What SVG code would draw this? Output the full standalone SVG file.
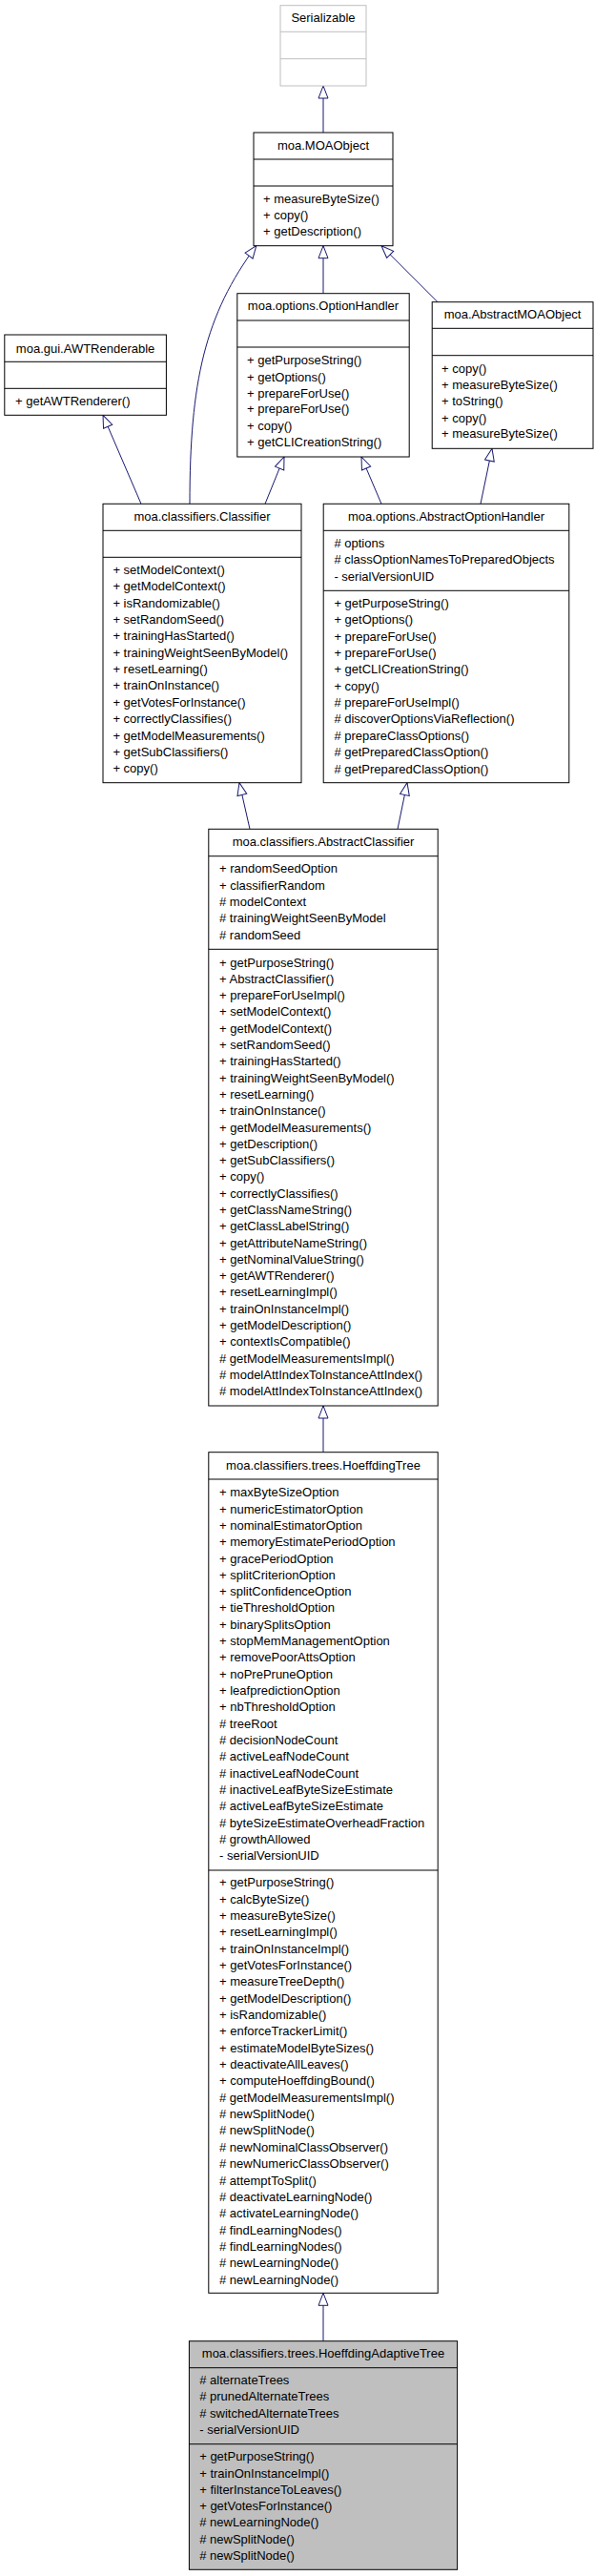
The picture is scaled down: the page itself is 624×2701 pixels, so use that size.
<svg xmlns="http://www.w3.org/2000/svg" width="624" height="2701" viewBox="0 0 624 2701">
<style>
rect.box{fill:#fff;stroke:#000;stroke-width:1}
rect.ghost{fill:#fff;stroke:#bfbfbf;stroke-width:1}
rect.cur{fill:#bfbfbf;stroke:#000;stroke-width:1}
line.div{stroke:#000;stroke-width:1}
line.gdiv{stroke:#bfbfbf;stroke-width:1}
text{font-family:"Liberation Sans",Arial,Helvetica,sans-serif;font-size:13px;fill:#000}
text.t{text-anchor:middle}
.edge{fill:none;stroke:#191970;stroke-width:1;marker-end:url(#inh)}
</style>
<defs>
<marker id="inh" markerUnits="userSpaceOnUse" markerWidth="15" markerHeight="12" viewBox="0 0 15 12" refX="14" refY="6" orient="auto">
<path d="M1,1 L14,6 L1,11 Z" fill="#fff" stroke="#191970" stroke-width="1"/>
</marker>
</defs>

<g id="connectors">
<path class="edge" d="M339,139 L339,90"/>
<path class="edge" d="M199,528.3 C199,400 215,330 268.8,257.7"/>
<path class="edge" d="M339,307.7 L339,257.7"/>
<path class="edge" d="M459,316.7 L400,257.7"/>
<path class="edge" d="M148,528.3 L108,435.3"/>
<path class="edge" d="M278,528.3 L298,479"/>
<path class="edge" d="M400,528.3 L379,479"/>
<path class="edge" d="M504,528.3 L516,470.3"/>
<path class="edge" d="M262,869.3 L251,820.7"/>
<path class="edge" d="M417,869.3 L427,820.7"/>
<path class="edge" d="M339,1522.7 L339,1474"/>
<path class="edge" d="M339,2454.7 L339,2404.3"/>
</g>

<g id="Serializable">
<rect class="ghost" x="294" y="5.7" width="90" height="84.3"/>
<line class="gdiv" x1="294" y1="33.3" x2="384" y2="33.3"/>
<line class="gdiv" x1="294" y1="61.7" x2="384" y2="61.7"/>
<text class="t" x="339" y="23">Serializable</text>
</g>

<g id="MOAObject">
<rect class="box" x="266" y="139" width="146" height="118.7"/>
<line class="div" x1="266" y1="167" x2="412" y2="167"/>
<line class="div" x1="266" y1="195" x2="412" y2="195"/>
<text class="t" x="339" y="157">moa.MOAObject</text>
<text x="276" y="213">+ measureByteSize()</text>
<text x="276" y="230">+ copy()</text>
<text x="276" y="247">+ getDescription()</text>
</g>

<g id="AWTRenderable">
<rect class="box" x="4.8" y="351" width="169.6" height="84.3"/>
<line class="div" x1="4.8" y1="379.3" x2="174.4" y2="379.3"/>
<line class="div" x1="4.8" y1="407.3" x2="174.4" y2="407.3"/>
<text class="t" x="89.6" y="369.5">moa.gui.AWTRenderable</text>
<text x="16" y="425">+ getAWTRenderer()</text>
</g>

<g id="OptionHandler">
<rect class="box" x="248.8" y="307.7" width="180.4" height="171.3"/>
<line class="div" x1="248.8" y1="336" x2="429.2" y2="336"/>
<line class="div" x1="248.8" y1="364" x2="429.2" y2="364"/>
<text class="t" x="339" y="325">moa.options.OptionHandler</text>
<text x="259" y="382">+ getPurposeString()</text>
<text x="259" y="399.5">+ getOptions()</text>
<text x="259" y="416.5">+ prepareForUse()</text>
<text x="259" y="433">+ prepareForUse()</text>
<text x="259" y="451">+ copy()</text>
<text x="259" y="468">+ getCLICreationString()</text>
</g>

<g id="AbstractMOAObject">
<rect class="box" x="453.2" y="316.7" width="168.8" height="153.6"/>
<line class="div" x1="453.2" y1="344.3" x2="622" y2="344.3"/>
<line class="div" x1="453.2" y1="372.7" x2="622" y2="372.7"/>
<text class="t" x="537.6" y="334">moa.AbstractMOAObject</text>
<text x="463" y="390.5">+ copy()</text>
<text x="463" y="408">+ measureByteSize()</text>
<text x="463" y="425">+ toString()</text>
<text x="463" y="442.5">+ copy()</text>
<text x="463" y="459">+ measureByteSize()</text>
</g>

<g id="Classifier">
<rect class="box" x="108" y="528.3" width="208" height="292.4"/>
<line class="div" x1="108" y1="556.3" x2="316" y2="556.3"/>
<line class="div" x1="108" y1="584.3" x2="316" y2="584.3"/>
<text class="t" x="212" y="546">moa.classifiers.Classifier</text>
<text x="118.4" y="602">+ setModelContext()</text>
<text x="118.4" y="619.3">+ getModelContext()</text>
<text x="118.4" y="636.7">+ isRandomizable()</text>
<text x="118.4" y="654">+ setRandomSeed()</text>
<text x="118.4" y="671.4">+ trainingHasStarted()</text>
<text x="118.4" y="688.7">+ trainingWeightSeenByModel()</text>
<text x="118.4" y="706.1">+ resetLearning()</text>
<text x="118.4" y="723.4">+ trainOnInstance()</text>
<text x="118.4" y="740.8">+ getVotesForInstance()</text>
<text x="118.4" y="758.1">+ correctlyClassifies()</text>
<text x="118.4" y="775.5">+ getModelMeasurements()</text>
<text x="118.4" y="792.8">+ getSubClassifiers()</text>
<text x="118.4" y="810.2">+ copy()</text>
</g>

<g id="AbstractOptionHandler">
<rect class="box" x="339.2" y="528.3" width="257.6" height="292.4"/>
<line class="div" x1="339.2" y1="556.3" x2="596.8" y2="556.3"/>
<line class="div" x1="339.2" y1="619.3" x2="596.8" y2="619.3"/>
<text class="t" x="468" y="546">moa.options.AbstractOptionHandler</text>
<text x="350.4" y="574"># options</text>
<text x="350.4" y="591"># classOptionNamesToPreparedObjects</text>
<text x="350.4" y="609">- serialVersionUID</text>
<text x="350.4" y="637">+ getPurposeString()</text>
<text x="350.4" y="654.4">+ getOptions()</text>
<text x="350.4" y="671.7">+ prepareForUse()</text>
<text x="350.4" y="689">+ prepareForUse()</text>
<text x="350.4" y="706.4">+ getCLICreationString()</text>
<text x="350.4" y="723.8">+ copy()</text>
<text x="350.4" y="741.1"># prepareForUseImpl()</text>
<text x="350.4" y="758.4"># discoverOptionsViaReflection()</text>
<text x="350.4" y="775.8"># prepareClassOptions()</text>
<text x="350.4" y="793.1"># getPreparedClassOption()</text>
<text x="350.4" y="810.5"># getPreparedClassOption()</text>
</g>

<g id="AbstractClassifier">
<rect class="box" x="218.8" y="869.3" width="240.4" height="604.7"/>
<line class="div" x1="218.8" y1="897.7" x2="459.2" y2="897.7"/>
<line class="div" x1="218.8" y1="995.3" x2="459.2" y2="995.3"/>
<text class="t" x="339" y="887">moa.classifiers.AbstractClassifier</text>
<text x="230" y="915.2">+ randomSeedOption</text>
<text x="230" y="932.6">+ classifierRandom</text>
<text x="230" y="950"># modelContext</text>
<text x="230" y="967.4"># trainingWeightSeenByModel</text>
<text x="230" y="984.8"># randomSeed</text>
<text x="230" y="1013.5">+ getPurposeString()</text>
<text x="230" y="1030.8">+ AbstractClassifier()</text>
<text x="230" y="1048.1">+ prepareForUseImpl()</text>
<text x="230" y="1065.4">+ setModelContext()</text>
<text x="230" y="1082.7">+ getModelContext()</text>
<text x="230" y="1100">+ setRandomSeed()</text>
<text x="230" y="1117.3">+ trainingHasStarted()</text>
<text x="230" y="1134.6">+ trainingWeightSeenByModel()</text>
<text x="230" y="1151.9">+ resetLearning()</text>
<text x="230" y="1169.2">+ trainOnInstance()</text>
<text x="230" y="1186.5">+ getModelMeasurements()</text>
<text x="230" y="1203.8">+ getDescription()</text>
<text x="230" y="1221.1">+ getSubClassifiers()</text>
<text x="230" y="1238.3">+ copy()</text>
<text x="230" y="1255.6">+ correctlyClassifies()</text>
<text x="230" y="1272.9">+ getClassNameString()</text>
<text x="230" y="1290.2">+ getClassLabelString()</text>
<text x="230" y="1307.5">+ getAttributeNameString()</text>
<text x="230" y="1324.8">+ getNominalValueString()</text>
<text x="230" y="1342.1">+ getAWTRenderer()</text>
<text x="230" y="1359.4">+ resetLearningImpl()</text>
<text x="230" y="1376.7">+ trainOnInstanceImpl()</text>
<text x="230" y="1394">+ getModelDescription()</text>
<text x="230" y="1411.3">+ contextIsCompatible()</text>
<text x="230" y="1428.6"># getModelMeasurementsImpl()</text>
<text x="230" y="1445.9"># modelAttIndexToInstanceAttIndex()</text>
<text x="230" y="1463.2"># modelAttIndexToInstanceAttIndex()</text>
</g>

<g id="HoeffdingTree">
<rect class="box" x="218.8" y="1522.7" width="240.4" height="881.6"/>
<line class="div" x1="218.8" y1="1551" x2="459.2" y2="1551"/>
<line class="div" x1="218.8" y1="1961" x2="459.2" y2="1961"/>
<text class="t" x="339" y="1541">moa.classifiers.trees.HoeffdingTree</text>
<text x="230" y="1569.2">+ maxByteSizeOption</text>
<text x="230" y="1586.5">+ numericEstimatorOption</text>
<text x="230" y="1603.8">+ nominalEstimatorOption</text>
<text x="230" y="1621.2">+ memoryEstimatePeriodOption</text>
<text x="230" y="1638.5">+ gracePeriodOption</text>
<text x="230" y="1655.8">+ splitCriterionOption</text>
<text x="230" y="1673.1">+ splitConfidenceOption</text>
<text x="230" y="1690.4">+ tieThresholdOption</text>
<text x="230" y="1707.7">+ binarySplitsOption</text>
<text x="230" y="1725.1">+ stopMemManagementOption</text>
<text x="230" y="1742.4">+ removePoorAttsOption</text>
<text x="230" y="1759.7">+ noPrePruneOption</text>
<text x="230" y="1777">+ leafpredictionOption</text>
<text x="230" y="1794.3">+ nbThresholdOption</text>
<text x="230" y="1811.7"># treeRoot</text>
<text x="230" y="1829"># decisionNodeCount</text>
<text x="230" y="1846.3"># activeLeafNodeCount</text>
<text x="230" y="1863.6"># inactiveLeafNodeCount</text>
<text x="230" y="1880.9"># inactiveLeafByteSizeEstimate</text>
<text x="230" y="1898.2"># activeLeafByteSizeEstimate</text>
<text x="230" y="1915.6"># byteSizeEstimateOverheadFraction</text>
<text x="230" y="1932.9"># growthAllowed</text>
<text x="230" y="1950.2">- serialVersionUID</text>
<text x="230" y="1978.2">+ getPurposeString()</text>
<text x="230" y="1995.5">+ calcByteSize()</text>
<text x="230" y="2012.9">+ measureByteSize()</text>
<text x="230" y="2030.2">+ resetLearningImpl()</text>
<text x="230" y="2047.6">+ trainOnInstanceImpl()</text>
<text x="230" y="2064.9">+ getVotesForInstance()</text>
<text x="230" y="2082.3">+ measureTreeDepth()</text>
<text x="230" y="2099.6">+ getModelDescription()</text>
<text x="230" y="2117">+ isRandomizable()</text>
<text x="230" y="2134.3">+ enforceTrackerLimit()</text>
<text x="230" y="2151.7">+ estimateModelByteSizes()</text>
<text x="230" y="2169">+ deactivateAllLeaves()</text>
<text x="230" y="2186.4">+ computeHoeffdingBound()</text>
<text x="230" y="2203.7"># getModelMeasurementsImpl()</text>
<text x="230" y="2221"># newSplitNode()</text>
<text x="230" y="2238.4"># newSplitNode()</text>
<text x="230" y="2255.7"># newNominalClassObserver()</text>
<text x="230" y="2273.1"># newNumericClassObserver()</text>
<text x="230" y="2290.5"># attemptToSplit()</text>
<text x="230" y="2307.8"># deactivateLearningNode()</text>
<text x="230" y="2325.1"># activateLearningNode()</text>
<text x="230" y="2342.5"># findLearningNodes()</text>
<text x="230" y="2359.8"># findLearningNodes()</text>
<text x="230" y="2377.2"># newLearningNode()</text>
<text x="230" y="2394.5"># newLearningNode()</text>
</g>

<g id="HoeffdingAdaptiveTree">
<rect class="cur" x="198.4" y="2454.7" width="281.2" height="239.6"/>
<line class="div" x1="198.4" y1="2482.7" x2="479.6" y2="2482.7"/>
<line class="div" x1="198.4" y1="2562.7" x2="479.6" y2="2562.7"/>
<text class="t" x="339" y="2472">moa.classifiers.trees.HoeffdingAdaptiveTree</text>
<text x="209.2" y="2499.8"># alternateTrees</text>
<text x="209.2" y="2517.2"># prunedAlternateTrees</text>
<text x="209.2" y="2534.6"># switchedAlternateTrees</text>
<text x="209.2" y="2552">- serialVersionUID</text>
<text x="209.2" y="2580.2">+ getPurposeString()</text>
<text x="209.2" y="2597.5">+ trainOnInstanceImpl()</text>
<text x="209.2" y="2614.8">+ filterInstanceToLeaves()</text>
<text x="209.2" y="2632.1">+ getVotesForInstance()</text>
<text x="209.2" y="2649.4"># newLearningNode()</text>
<text x="209.2" y="2666.7"># newSplitNode()</text>
<text x="209.2" y="2683.8"># newSplitNode()</text>
</g>
</svg>
